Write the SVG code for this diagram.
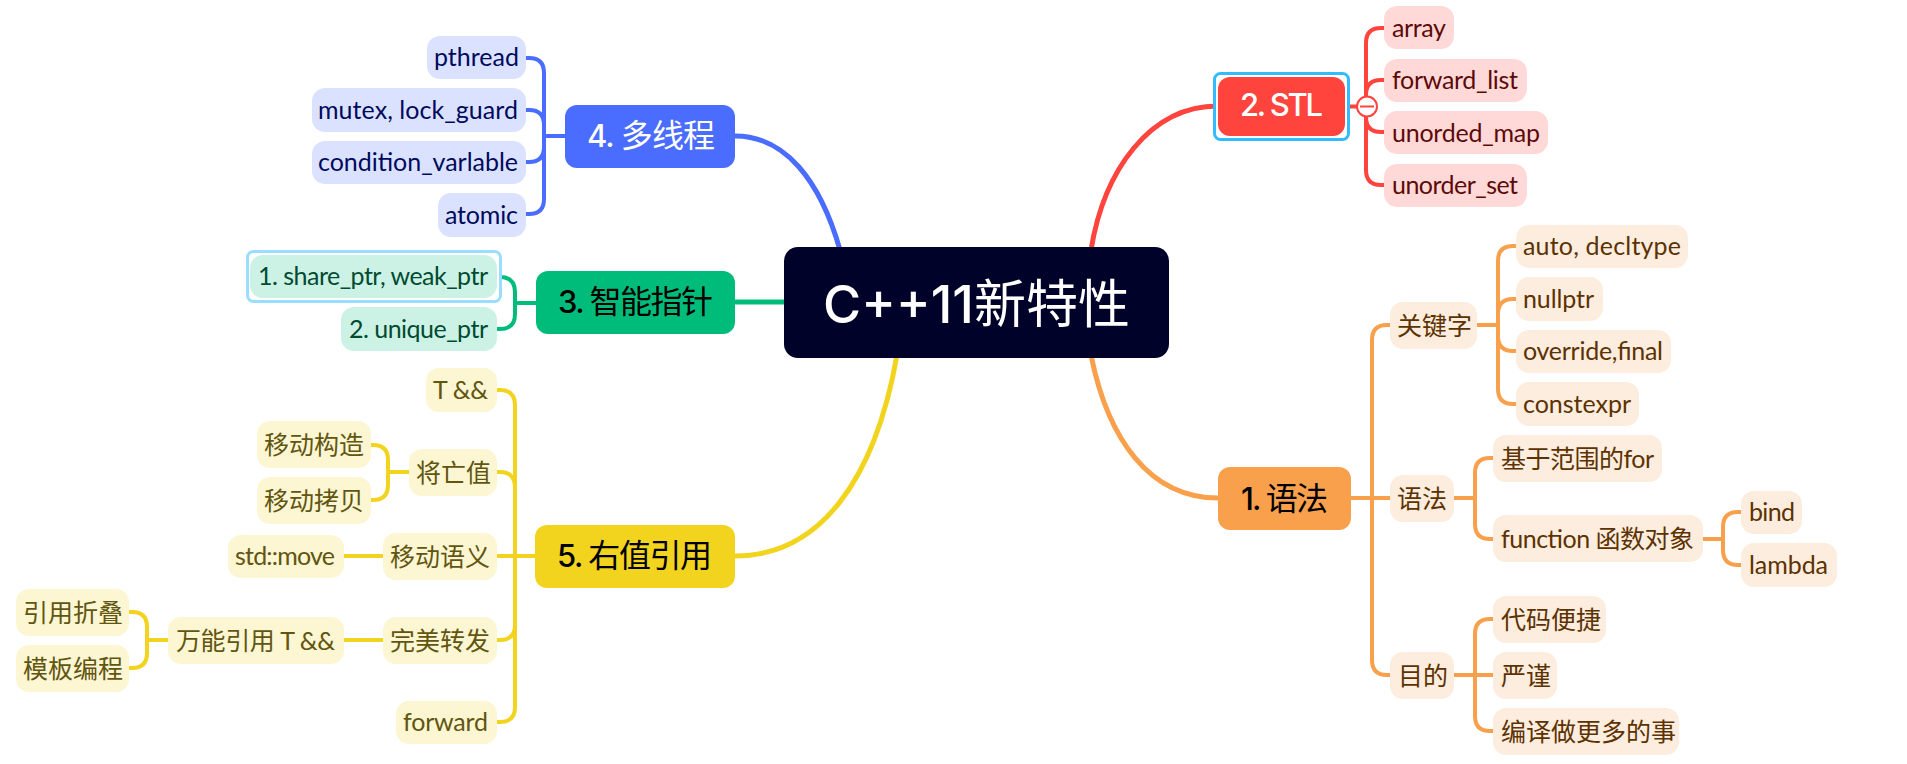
<svg xmlns="http://www.w3.org/2000/svg" width="1907" height="764" viewBox="0 0 1907 764">
<style>
text{font-family:"Lato","Noto Sans CJK SC",sans-serif;font-size:25px;white-space:pre}
.z,tspan{font-size:25px;font-weight:400}
.m{font-family:Inter,"Noto Sans CJK SC",sans-serif;font-size:31px;font-weight:500}
.m tspan{font-size:32px;font-weight:400}
.c{fill:none;stroke-width:4;stroke-linecap:butt}
.k{stroke-width:5}
.r{stroke:#FF443D}.o{stroke:#F9A04C}.b{stroke:#4A6CFF}.g{stroke:#00BC7B}.y{stroke:#F2D41F}
.lr{fill:#FFD9D8}.lo{fill:#FDEDDF}.lb{fill:#DBE2FF}.lg{fill:#CCF2E5}.ly{fill:#FCF6D2}
.tr{fill:#5C0A07}.to{fill:#5C3200}.tb{fill:#000A5C}.tg{fill:#004B31}.ty{fill:#615510}
</style>
<rect width="1907" height="764" fill="#FFFFFF"/>
<g id="connectors">
<path class="c k r" d="M1091 250C1104 170 1150 106 1218 106"/>
<path class="c k o" d="M1091 355C1108 440 1150 498 1218 498"/>
<path class="c k b" d="M735 136C785 136 820 180 840 250"/>
<path class="c k g" d="M735 302H784"/>
<path class="c k y" d="M735 556C820 556 875 480 897 355"/>
<path class="c r" d="M1345 106.500H1366V43Q1366 28 1381 28H1385M1366 106.500V95Q1366 80 1381 80H1385M1366 106.500V117Q1366 132 1381 132H1385M1366 106.500V170Q1366 185 1381 185H1385"/>
<path class="c o" d="M1351 498H1390M1372 498V340Q1372 325 1387 325H1391M1372 498V660Q1372 675 1387 675H1391"/>
<path class="c o" d="M1477 325H1498V261Q1498 246 1513 246H1517M1498 325V314Q1498 299 1513 299H1517M1498 325V336Q1498 351 1513 351H1517M1498 325V389Q1498 404 1513 404H1517"/>
<path class="c o" d="M1454 498H1475V473Q1475 458 1490 458H1494M1475 498V524Q1475 539 1490 539H1494"/>
<path class="c o" d="M1703 539H1723V527Q1723 512 1738 512H1742M1723 539V550Q1723 565 1738 565H1742"/>
<path class="c o" d="M1454 675H1493M1475 675V634Q1475 619 1490 619H1494M1475 675V716Q1475 731 1490 731H1494"/>
<path class="c b" d="M565 136H544V73Q544 58 529 58H525M544 136V125Q544 110 529 110H525M544 136V147Q544 162 529 162H525M544 136V199Q544 214 529 214H525"/>
<path class="c g" d="M536 303H515V292Q515 277 500 277H496M515 303V314Q515 329 500 329H496"/>
<path class="c y" d="M535 556H497M515 556V405Q515 390 500 390H496M515 556V487Q515 472 500 472H496M515 556V625Q515 640 500 640H496M515 556V707Q515 722 500 722H496"/>
<path class="c y" d="M409 472H388V460Q388 445 373 445H370M388 472V485Q388 500 373 500H370"/>
<path class="c y" d="M383 556H344M383 640H344"/>
<path class="c y" d="M168 640H147V627Q147 612 132 612H128M147 640V653Q147 668 132 668H128"/>
</g>
<g id="root"><rect x="784" y="247" width="385" height="111" rx="14" fill="#000229"/><text x="823" y="323" fill="#FFFFFF" style="font-size:52px;font-weight:500;font-family:Inter,'Noto Sans CJK SC',sans-serif" textLength="307">C++11<tspan style="font-size:52px;font-weight:400">新特性</tspan></text></g>
<g id="n2"><rect x="1214.500" y="73.500" width="134" height="66" rx="6" fill="#FFFFFF" stroke="#33BBFF" stroke-width="3"/><rect x="1218" y="77" width="127" height="59" rx="12" fill="#FF443D"/><text class="m" x="1240" y="116" fill="#FFFFFF" textLength="83">2. STL</text></g>
<g id="collapse"><circle cx="1367" cy="106.500" r="10" fill="#FFFFFF" stroke="#FF443D" stroke-width="2"/><path d="M1360 106.500H1374" stroke="#FF443D" stroke-width="2"/></g>
<g id="n2a"><rect class="lr" x="1384" y="6" width="70" height="43" rx="13"/><text class="tr" x="1392" y="37" textLength="54">array</text></g>
<g id="n2b"><rect class="lr" x="1384" y="59" width="143" height="43" rx="13"/><text class="tr" x="1392" y="89" textLength="126">forward_list</text></g>
<g id="n2c"><rect class="lr" x="1384" y="111" width="164" height="43" rx="13"/><text class="tr" x="1392" y="142" textLength="148">unorded_map</text></g>
<g id="n2d"><rect class="lr" x="1384" y="164" width="143" height="43" rx="13"/><text class="tr" x="1392" y="194" textLength="126">unorder_set</text></g>
<g id="n1"><rect x="1218" y="467" width="133" height="63" rx="12" fill="#F9A04C"/><text class="m" x="1241" y="510" fill="#000000" textLength="87">1. <tspan>语法</tspan></text></g>
<g id="n1a"><rect class="lo" x="1390" y="302" width="87" height="47" rx="13"/><text class="z to" x="1397" y="335">关键字</text></g>
<g id="n1a1"><rect class="lo" x="1516" y="225" width="172" height="43" rx="13"/><text class="to" x="1523" y="255" textLength="158">auto, decltype</text></g>
<g id="n1a2"><rect class="lo" x="1516" y="277" width="87" height="44" rx="13"/><text class="to" x="1523" y="308" textLength="71">nullptr</text></g>
<g id="n1a3"><rect class="lo" x="1516" y="330" width="155" height="43" rx="13"/><text class="to" x="1523" y="360" textLength="140">override,final</text></g>
<g id="n1a4"><rect class="lo" x="1516" y="382" width="123" height="44" rx="13"/><text class="to" x="1523" y="413" textLength="108">constexpr</text></g>
<g id="n1b"><rect class="lo" x="1390" y="475" width="64" height="47" rx="13"/><text class="z to" x="1397" y="508">语法</text></g>
<g id="n1b1"><rect class="lo" x="1493" y="435" width="169" height="47" rx="13"/><text class="to" x="1501" y="468" textLength="153"><tspan>基于范围的</tspan>for</text></g>
<g id="n1b2"><rect class="lo" x="1493" y="515" width="210" height="47" rx="13"/><text class="to" x="1501" y="548" textLength="193">function <tspan>函数对象</tspan></text></g>
<g id="n1b2a"><rect class="lo" x="1741" y="491" width="61" height="43" rx="13"/><text class="to" x="1749" y="521" textLength="46">bind</text></g>
<g id="n1b2b"><rect class="lo" x="1741" y="543" width="96" height="44" rx="13"/><text class="to" x="1749" y="574" textLength="79">lambda</text></g>
<g id="n1c"><rect class="lo" x="1390" y="652" width="64" height="47" rx="13"/><text class="z to" x="1398" y="685">目的</text></g>
<g id="n1c1"><rect class="lo" x="1493" y="596" width="113" height="47" rx="13"/><text class="z to" x="1501" y="629">代码便捷</text></g>
<g id="n1c2"><rect class="lo" x="1493" y="652" width="64" height="47" rx="13"/><text class="z to" x="1501" y="685">严谨</text></g>
<g id="n1c3"><rect class="lo" x="1493" y="708" width="186" height="47" rx="13"/><text class="z to" x="1501" y="741">编译做更多的事</text></g>
<g id="n4"><rect x="565" y="105" width="170" height="63" rx="12" fill="#4A6CFF"/><text class="m" x="587" y="147" fill="#FFFFFF" textLength="128">4. <tspan>多线程</tspan></text></g>
<g id="n4a"><rect class="lb" x="427" y="36" width="99" height="43" rx="13"/><text class="tb" x="434" y="66" textLength="85">pthread</text></g>
<g id="n4b"><rect class="lb" x="312" y="88" width="214" height="44" rx="13"/><text class="tb" x="318" y="119" textLength="200">mutex, lock_guard</text></g>
<g id="n4c"><rect class="lb" x="312" y="141" width="214" height="43" rx="13"/><text class="tb" x="318" y="171" textLength="200">condition_varlable</text></g>
<g id="n4d"><rect class="lb" x="438" y="193" width="88" height="44" rx="13"/><text class="tb" x="445" y="224" textLength="73">atomic</text></g>
<g id="n3"><rect x="536" y="271" width="199" height="63" rx="12" fill="#00BC7B"/><text class="m" x="558" y="313" fill="#000000" textLength="155">3. <tspan>智能指针</tspan></text></g>
<g id="n3a"><rect x="247.500" y="251.500" width="253" height="50" rx="6" fill="#FFFFFF" stroke="#99DDFF" stroke-width="3"/><rect class="lg" x="250" y="255" width="247" height="43" rx="13"/><text class="tg" x="258" y="285" textLength="230">1. share_ptr, weak_ptr</text></g>
<g id="n3b"><rect class="lg" x="341" y="307" width="156" height="44" rx="13"/><text class="tg" x="349" y="338" textLength="139">2. unique_ptr</text></g>
<g id="n5"><rect x="535" y="525" width="200" height="63" rx="12" fill="#F2D41F"/><text class="m" x="557" y="567" fill="#000000" textLength="155">5. <tspan>右值引用</tspan></text></g>
<g id="n5a"><rect class="ly" x="426" y="368" width="71" height="44" rx="13"/><text class="ty" x="433" y="399" textLength="55">T &amp;&amp;</text></g>
<g id="n5b"><rect class="ly" x="409" y="449" width="88" height="47" rx="13"/><text class="z ty" x="416" y="482">将亡值</text></g>
<g id="n5b1"><rect class="ly" x="257" y="421" width="114" height="47" rx="13"/><text class="z ty" x="264" y="454">移动构造</text></g>
<g id="n5b2"><rect class="ly" x="257" y="477" width="114" height="47" rx="13"/><text class="z ty" x="264" y="510">移动拷贝</text></g>
<g id="n5c"><rect class="ly" x="383" y="533" width="114" height="47" rx="13"/><text class="z ty" x="390" y="566">移动语义</text></g>
<g id="n5c1"><rect class="ly" x="228" y="535" width="116" height="43" rx="13"/><text class="ty" x="235" y="565" textLength="100">std::move</text></g>
<g id="n5d"><rect class="ly" x="383" y="617" width="114" height="47" rx="13"/><text class="z ty" x="390" y="650">完美转发</text></g>
<g id="n5d1"><rect class="ly" x="168" y="617" width="176" height="47" rx="13"/><text class="ty" x="176" y="650" textLength="159"><tspan>万能引用</tspan> T &amp;&amp;</text></g>
<g id="n5d1a"><rect class="ly" x="16" y="589" width="113" height="47" rx="13"/><text class="z ty" x="23" y="622">引用折叠</text></g>
<g id="n5d1b"><rect class="ly" x="16" y="645" width="113" height="47" rx="13"/><text class="z ty" x="23" y="678">模板编程</text></g>
<g id="n5e"><rect class="ly" x="396" y="701" width="101" height="43" rx="13"/><text class="ty" x="403" y="731" textLength="85">forward</text></g>
</svg>
